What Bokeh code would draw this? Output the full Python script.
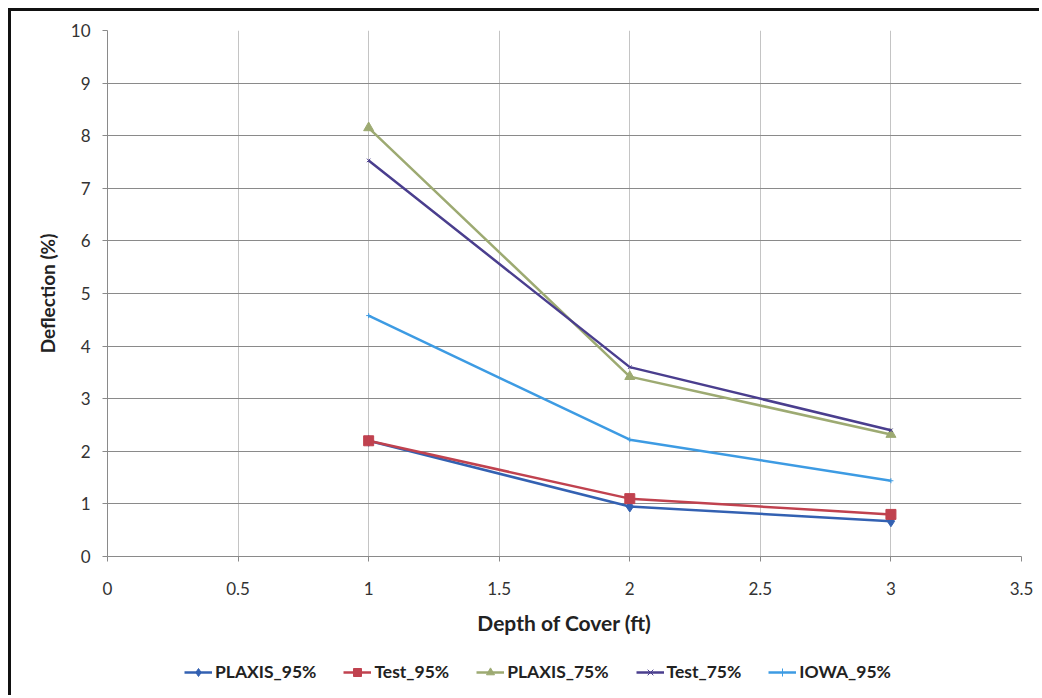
from bokeh.plotting import figure
from bokeh.layouts import column
from bokeh.models import Legend, LegendItem, FixedTicker, Range1d
from bokeh.embed import file_html
from bokeh.resources import INLINE

depth = [1, 2, 3]
plaxis_95 = [2.2, 0.95, 0.67]
test_95 = [2.2, 1.1, 0.8]
plaxis_75 = [8.15, 3.42, 2.32]
test_75 = [7.53, 3.6, 2.4]
iowa_95 = [4.58, 2.22, 1.44]

series_names = ["PLAXIS_95%", "Test_95%", "PLAXIS_75%", "Test_75%", "IOWA_95%"]

x_ticks = [0, 0.5, 1, 1.5, 2, 2.5, 3, 3.5]
y_ticks = [0, 1, 2, 3, 4, 5, 6, 7, 8, 9, 10]

FONT = "Lato"

p = figure(output_backend="svg", toolbar_location=None,
           x_range=Range1d(0, 3.5), y_range=Range1d(0, 10),
           frame_width=914, frame_height=526,
           min_border_left=96, min_border_right=18, min_border_top=19, min_border_bottom=78)

p.outline_line_color = None
p.background_fill_color = "white"
p.border_fill_color = "white"

p.xaxis.ticker = FixedTicker(ticks=x_ticks)
p.yaxis.ticker = FixedTicker(ticks=y_ticks)
p.xaxis.major_label_overrides = {0: "0", 1: "1", 2: "2", 3: "3"}

p.xgrid.ticker = FixedTicker(ticks=x_ticks)
p.ygrid.ticker = FixedTicker(ticks=y_ticks)
p.xgrid.grid_line_color = "#c4c4c4"
p.ygrid.grid_line_color = "#8a8a8a"

for ax in (p.xaxis, p.yaxis):
    ax.axis_line_color = "#8a8a8a"
    ax.major_tick_line_color = "#8a8a8a"
    ax.major_tick_in = 0
    ax.major_tick_out = 5
    ax.minor_tick_line_color = None
    ax.major_label_text_font = FONT
    ax.major_label_text_font_size = "17px"
    ax.major_label_text_color = "#333333"
    ax.axis_label_text_font = FONT
    ax.axis_label_text_font_style = "bold"
    ax.axis_label_text_color = "#222222"

p.xaxis.axis_label = "Depth of Cover (ft)"
p.yaxis.axis_label = "Deflection (%)"
p.xaxis.axis_label_text_font_size = "21px"
p.yaxis.axis_label_text_font_size = "19px"
p.xaxis.major_label_standoff = 20
p.xaxis.axis_label_standoff = 12
p.yaxis.major_label_standoff = 12
p.yaxis.axis_label_standoff = 9

colors = ["#3361B2", "#C0424F", "#9DAA72", "#4A3E8E", "#3D9BE3"]
markers = ["diamond", "square", "triangle", "x", "cross"]
msizes = [11, 10, 10, 5, 5]
values = [plaxis_95, test_95, plaxis_75, test_75, iowa_95]

# legend strip as its own small figure (its glyphs sit outside its visible range)
lg = figure(output_backend="svg", toolbar_location=None,
            x_range=Range1d(-10, -9), y_range=Range1d(-10, -9),
            frame_width=1028, frame_height=58,
            min_border_left=0, min_border_right=0, min_border_top=0, min_border_bottom=0)
lg.axis.visible = False
lg.grid.visible = False
lg.outline_line_color = None
lg.background_fill_color = "white"
lg.border_fill_color = "white"

items = []
for name, vals, c, mk, ms in zip(series_names, values, colors, markers, msizes):
    p.line(depth, vals, line_color=c, line_width=2.5)
    p.scatter(depth, vals, marker=mk, size=ms, fill_color=c, line_color=c)
    gl = lg.line(depth, vals, line_color=c, line_width=2.5)
    gm = lg.scatter(depth, vals, marker=mk, size=ms - 2, fill_color=c, line_color=c)
    items.append(LegendItem(label=name, renderers=[gl, gm]))

legend = Legend(items=items, orientation="horizontal", location=(173, 13),
                border_line_color=None, background_fill_alpha=0,
                label_text_font=FONT, label_text_font_size="17.5px",
                label_text_font_style="bold", label_text_color="#222222",
                glyph_width=28, spacing=27, margin=0, padding=4,
                label_standoff=3)
lg.add_layout(legend, "center")

layout = column(p, lg, spacing=0, margin=(8, 0, 0, 8),
                styles={"border-left": "3px solid #111", "border-top": "3px solid #111"})

open("out.html", "w").write(file_html(layout, INLINE))
